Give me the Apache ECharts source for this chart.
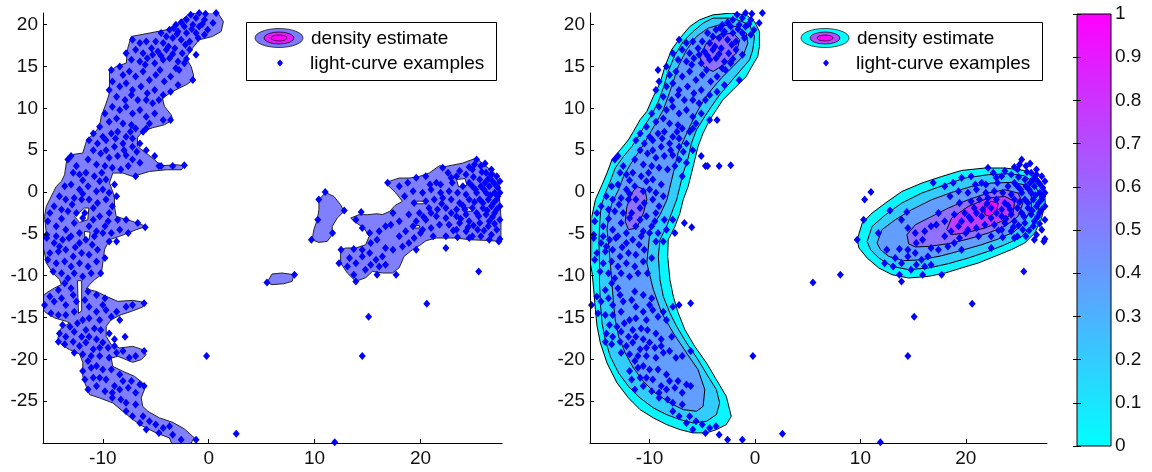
<!DOCTYPE html>
<html><head><meta charset="utf-8">
<script src="https://cdn.jsdelivr.net/npm/echarts@6/dist/echarts.min.js"></script>
<style>html,body{margin:0;padding:0;background:#fff}#c{width:1152px;height:472px}</style>
</head><body><div id="c"></div>
<script>
// ---------------- data ----------------
const xRange = [-15.65, 27.7];
const yRange = [-30, 21.4];
const xTicks = [-10, 0, 10, 20];
const yTicks = [-25, -20, -15, -10, -5, 0, 5, 10, 15, 20];
const cbRange = [0, 1];
const cbTicks = [0, 0.1, 0.2, 0.3, 0.4, 0.5, 0.6, 0.7, 0.8, 0.9, 1];
const legendLabels = ['density estimate', 'light-curve examples'];

// light-curve examples (same points in both panels)
const lightCurvePoints = [
[-1.7,21.2],[-0.9,21.4],[-0.3,21.3],[0.7,21.4],[-2.1,20.6],[-1.2,20.8],[-0.4,20.6],[0.4,20.2],[-3.1,20.0],[-2.3,19.8],[-1.5,20.0],[-0.9,19.8],[-0.1,19.4],[-3.7,19.4],[-2.9,19.2],[-2.1,19.0],[-1.2,19.0],[-0.4,18.8],[-4.0,18.6],[-3.4,18.4],[-2.6,18.2],[-1.8,18.0],[-7.2,18.2],[-6.5,17.8],[-5.9,18.0],[-5.0,18.0],[-4.3,17.8],
[-7.8,16.6],[-6.9,17.0],[-6.2,16.6],[-5.4,17.2],[-4.8,16.8],[-4.0,17.0],[-3.2,17.2],[-2.5,16.6],[-1.8,17.0],[-7.3,15.8],[-6.5,15.6],[-5.8,16.0],[-5.1,15.4],[-4.3,15.8],[-3.7,16.0],[-2.9,15.6],[-2.3,15.4],[-2.8,14.6],[-1.5,13.4],[-9.2,14.6],[-8.4,15.0],
[-8.1,14.0],[-7.5,14.4],[-6.9,13.8],[-6.2,14.4],[-5.6,13.4],[-5.0,14.0],[-4.2,13.2],[-3.6,13.8],[-2.9,12.8],[-9.1,13.2],[-9.4,12.2],[-8.4,12.6],[-7.8,13.0],[-7.2,12.2],[-6.4,12.6],[-5.8,11.8],[-5.1,12.2],[-4.3,11.6],[-3.6,12.0],[-8.7,11.4],[-7.9,11.0],[-7.3,11.6],[-6.7,11.0],[-5.9,11.0],[-5.3,10.6],[-4.7,11.0],
[-9.8,9.4],[-9.1,10.2],[-8.4,9.8],[-7.8,10.2],[-7.2,9.4],[-6.5,9.8],[-5.9,9.0],[-5.1,9.4],[-4.3,8.6],[-3.6,8.6],[-9.4,8.4],[-8.7,8.8],[-8.1,8.2],[-7.3,8.0],[-6.9,7.6],[-6.2,7.2],[-5.6,8.2],[-10.3,7.8],[-10.9,7.0],[-10.0,6.6],[-9.2,7.0],[-8.6,7.2],[-7.8,6.6],[-7.2,6.4],[-5.9,7.6],
[-11.3,6.2],[-10.5,5.8],[-9.7,6.2],[-8.9,5.4],[-8.1,5.8],[-7.2,5.4],[-6.5,5.8],[-5.9,5.0],[-5.1,4.3],[-4.5,3.1],[-10.9,5.0],[-10.2,4.6],[-9.4,4.1],[-8.6,4.3],[-7.8,4.4],[-7.2,3.9],[-6.5,3.5],[-11.4,3.9],[-10.6,3.3],[-9.8,3.1],[-9.1,2.9],[-8.3,2.7],[-7.6,3.1],[-6.9,1.9],[-13.0,4.3],[-13.3,3.9],[-12.5,3.1],[-2.3,3.2],[-3.4,3.1],[-4.7,3.1],
[-12.8,2.3],[-12.2,2.1],[-11.6,2.3],[-10.8,1.9],[-10.3,1.3],[-9.7,1.5],[-8.9,0.9],[-13.6,0.7],[-13.0,0.9],[-12.2,0.3],[-11.4,0.7],[-10.6,0.1],[-10.0,0.3],[-9.4,-0.1],[-8.7,-0.5],[-14.1,-0.5],[-13.5,-0.9],[-12.7,-0.7],[-12.0,-0.9],[-11.3,-0.9],[-10.5,-1.3],[-9.7,-0.9],[-9.1,-1.7],[-14.6,-1.7],[-13.9,-2.1],[-15.0,-2.5],[-13.3,-2.3],[-12.5,-2.5],[-11.7,-2.5],[-10.9,-1.9],[-10.3,-2.9],[-9.4,-2.5],[-8.6,-3.3],[-7.8,-3.3],[-6.7,-3.7],[-6.0,-4.2],
[-15.2,-3.5],[-14.4,-4.1],[-13.5,-4.5],[-12.7,-3.7],[-11.3,-4.1],[-10.6,-4.7],[-9.8,-4.1],[-9.2,-4.9],[-8.4,-4.5],[-7.6,-4.9],[-15.3,-5.1],[-14.4,-5.3],[-13.2,-5.5],[-11.9,-3.1],[-12.2,-4.9],
[-15.3,-5.5],[-14.6,-6.1],[-13.8,-5.7],[-13.0,-5.3],[-12.2,-6.1],[-11.6,-5.7],[-10.8,-5.3],[-10.0,-4.9],[-9.4,-5.9],[-8.7,-5.9],[-15.0,-7.3],[-14.2,-7.1],[-13.5,-6.9],[-12.8,-7.7],[-12.0,-7.3],[-11.3,-7.5],[-10.5,-6.9],[-9.8,-7.9],[-15.2,-8.1],[-14.4,-8.5],[-13.6,-8.3],[-13.0,-8.9],[-12.2,-8.5],[-11.4,-8.9],[-10.6,-8.3],[-10.2,-9.7],[-14.7,-9.5],[-13.9,-9.7],[-13.3,-10.3],[-12.7,-9.7],[-11.9,-10.1],[-11.1,-9.7],[-13.6,-10.9],[-13.0,-11.5],[-14.2,-11.7],[-15.0,-12.5],[-15.5,-13.5],[-14.6,-13.1],[-13.9,-12.7],[-13.5,-13.5],[-12.8,-12.3],[-12.5,-13.1],[-11.4,-11.9],[-10.6,-12.3],[-9.8,-12.7],[-9.7,-14.1],[-8.7,-14.3],[-7.8,-13.7],[-7.2,-13.5],[-6.1,-13.3],
[-14.9,-14.5],[-14.2,-14.7],[-13.5,-14.7],[-12.7,-14.3],[-11.7,-12.9],[-11.3,-13.7],[-10.6,-14.3],[-10.0,-13.5],[-9.2,-14.9],[-8.4,-15.3],[-11.9,-15.3],[-11.3,-15.1],[-10.3,-15.3],[-13.8,-15.9],[-13.1,-16.1],[-12.4,-15.7],[-11.6,-16.5],[-10.8,-16.3],[-10.2,-16.5],[-9.4,-16.9],[-14.1,-16.9],[-13.5,-17.3],[-12.7,-16.7],[-12.0,-17.3],[-11.3,-17.3],[-10.6,-17.6],[-10.0,-18.0],[-8.9,-17.6],[-7.9,-17.3],
[-14.2,-17.9],[-13.6,-18.2],[-12.8,-17.9],[-12.2,-18.4],[-11.6,-18.0],[-10.9,-18.8],[-10.3,-18.6],[-9.5,-18.6],[-8.9,-18.4],[-8.7,-19.2],[-8.1,-19.0],[-12.7,-19.2],[-11.9,-19.4],[-11.1,-19.6],[-10.3,-19.6],[-9.4,-19.8],[-7.5,-19.8],[-6.9,-19.6],[-6.1,-19.0],[-11.4,-20.2],
[-11.9,-21.4],[-11.1,-21.0],[-10.6,-20.8],[-10.0,-21.2],[-9.2,-21.2],[-8.4,-21.8],[-11.7,-22.4],[-10.9,-22.2],[-10.3,-22.2],[-9.7,-22.4],[-8.9,-23.2],[-8.1,-22.6],[-7.3,-22.6],[-6.5,-23.0],[-11.4,-23.6],[-10.6,-23.2],[-9.8,-23.8],[-9.1,-24.0],[-8.4,-23.6],[-7.6,-23.4],[-6.9,-24.0],[-6.1,-23.2],
[-9.1,-24.6],[-8.3,-24.8],[-7.8,-25.2],[-6.9,-25.4],[-7.8,-26.2],[-7.2,-26.8],[-6.2,-26.8],[-5.6,-27.4],[-6.5,-27.6],[-5.0,-27.8],[-5.9,-28.4],[-4.3,-28.2],[-3.7,-28.0],[-4.7,-28.8],[-3.4,-29.0],[-2.6,-29.6],[-1.2,-29.6],[-0.2,-19.6],[2.6,-28.9],
[-3.3,19.6],[-2.6,20.3],[-1.6,19.5],[-0.6,20.1],[-1.0,18.4],[-2.2,17.6],[-3.0,18.9],[-4.5,19.0],[-3.8,17.4],[-4.5,16.3],[-3.4,16.5],[-2.1,15.9],[-1.2,16.4],[-3.1,14.8],[-4.6,14.6],[-6.0,15.2],[-5.3,16.4],
[-7.4,7.2],[-8.8,6.4],[-9.7,5.0],[-8.0,5.0],[-6.8,4.8],[-10.1,2.3],[-11.9,1.4],[-12.9,-1.5],[-11.9,-0.2],[-10.9,-3.3],[-13.9,-3.2],[-14.1,-6.5],[-12.6,-6.6],[-11.0,-6.3],[-9.5,-3.5],
[11.0,0.0],[10.4,-0.9],[12.8,-2.2],[10.3,-3.3],[11.7,-4.9],[9.7,-5.7],
[12.5,-6.9],[13.7,-6.8],[14.4,-2.4],[13.9,-3.3],[14.5,-4.3],[15.2,-4.9],[16.1,-4.7],[16.7,-4.1],[15.9,-5.7],[15.3,-6.1],[14.5,-6.9],[13.3,-7.9],[13.9,-8.5],[14.5,-7.7],[15.2,-7.3],[15.8,-8.1],[16.4,-7.7],[16.7,-6.7],[17.4,-6.9],[12.3,-8.5],[13.1,-8.9],[13.7,-9.9],[13.9,-10.7],[14.8,-9.3],[15.3,-8.7],[16.1,-8.9],[16.7,-8.7],[15.9,-9.9],[17.7,-9.9],[17.4,-2.5],[17.2,-3.9],[18.0,-3.5],[18.0,-5.3],[18.6,-4.7],[19.3,-4.1],[18.3,-6.5],[18.9,-6.1],[19.6,-6.9],[19.4,-5.5],[20.0,-4.9],
[16.9,1.1],[18.0,0.7],[18.8,1.1],[19.6,1.7],[20.5,1.9],[21.5,1.1],[22.1,2.9],[22.6,2.3],[23.4,1.9],[24.3,2.1],[25.3,3.9],[25.7,3.1],[24.9,2.7],[26.2,2.3],[26.7,2.7],[27.2,1.9],[27.5,1.3],[26.8,1.3],[26.1,1.1],[25.6,1.5],[24.6,1.1],[24.0,0.7],[23.0,1.1],[24.9,0.7],[25.7,0.7],[26.5,0.7],[27.3,0.5],[27.5,-0.1],[27.0,-0.1],[26.2,-0.1],[25.3,-0.1],[24.3,-0.3],[23.5,-0.1],[22.7,0.1],[21.9,-0.1],[21.0,0.3],[20.2,-0.1],[19.3,0.1],[18.5,-0.5],[19.4,-1.3],[20.5,-1.1],[21.3,-0.9],[22.1,-0.7],[22.9,-0.9],[23.7,-1.3],[24.6,-0.9],[25.6,-0.9],[26.4,-0.9],[27.2,-0.9],[27.5,-1.7],[26.7,-1.7],[25.9,-1.9],[24.9,-1.9],[24.2,-2.1],[23.4,-2.1],[22.4,-1.9],[21.6,-2.1],[20.8,-1.9],[19.9,-2.5],[18.9,-2.7],[19.6,-3.5],[20.5,-3.3],[21.5,-2.9],[22.4,-3.1],[23.4,-2.9],[24.3,-2.7],[25.3,-2.5],[26.2,-2.7],[27.0,-2.5],[27.5,-3.3],[26.5,-3.5],[25.6,-3.7],[24.6,-3.5],[23.7,-3.7],[22.7,-3.9],[21.8,-3.9],[21.0,-4.3],[20.2,-4.5],[21.2,-5.3],[22.4,-5.3],[23.4,-4.5],[24.3,-4.7],[25.4,-4.5],[26.4,-4.1],[27.2,-4.5],[27.5,-5.6],[26.7,-5.1],[25.7,-5.3],[24.6,-5.5],[23.5,-5.4],[22.4,-6.7],[24.9,-5.3],
[25.0,1.8],[25.8,2.4],[26.4,1.6],[27.0,1.0],[26.0,0.3],[25.2,0.3],[27.3,-0.5],[26.6,-0.4],[25.9,-1.3],[25.1,-1.2],[26.9,-1.3],[26.3,-2.2],[25.5,-2.9],[27.2,-2.1],[26.8,-3.0],[25.0,-4.0],[26.0,-4.6],[27.0,-3.8],[24.0,-1.6],[23.8,-3.2],[24.5,-4.2],[26.1,3.4],[24.6,3.0],[23.7,2.5],[22.9,1.7],[21.9,0.9],[20.9,0.9],[22.0,-1.4],[21.0,-2.5],[20.3,-3.0],[22.9,-2.5],[23.1,-4.6],
[25.1,3.3],[26.7,2.1],[25.5,-9.5],[26.5,-5.7],[27.4,-5.9],[11.9,-29.9],[14.5,-19.6],[15.1,-14.9],[20.6,-13.35],[5.5,-10.8],[8.1,-9.9]
];

// left panel: single density level (data coordinates)
const leftMainBlob = [
[-0.88,21.5],[0.82,21.5],[1.39,20.38],[1.17,19.19],[0.35,18.59],[-0.88,18.2],[-1.66,17.0],[-2.13,16.0],[-1.66,15.0],[-1.44,14.01],[-1.42,13.42],[-2.13,12.82],[-3.42,12.02],[-4.37,11.23],[-4.18,10.23],[-3.55,9.24],[-3.4,8.64],[-4.18,8.04],[-5.31,7.68],[-6.25,7.24],[-6.73,6.49],[-6.73,5.45],[-5.91,4.66],[-5.12,3.86],[-4.49,3.14],[-3.08,3.26],[-2.29,3.14],[-2.6,2.66],[-4.02,2.66],[-5.59,2.46],[-7.17,1.86],[-8.11,2.27],[-9.06,2.27],[-9.37,1.08],[-8.9,-0.53],[-8.9,-1.72],[-8.74,-2.92],[-7.17,-3.51],[-5.91,-4.11],[-6.85,-4.5],[-8.42,-5.3],[-9.37,-5.7],[-9.84,-6.89],[-10,-8.48],[-10.15,-9.88],[-10.78,-10.48],[-11.25,-11.07],[-11.57,-11.59],[-10.62,-11.88],[-9.68,-12.47],[-8.58,-13.07],[-7.17,-12.95],[-6.07,-13.19],[-6.23,-13.74],[-7.32,-14.27],[-8.26,-14.66],[-9.21,-15.26],[-9.68,-16.06],[-9.68,-17.25],[-9.21,-18.24],[-8.42,-18.64],[-7.17,-18.45],[-6.23,-18.84],[-5.91,-19.44],[-6.38,-20.04],[-7.17,-20.36],[-7.79,-20.04],[-8.58,-19.64],[-9.21,-19.84],[-9.06,-20.84],[-8.11,-21.43],[-7.01,-22.03],[-6.23,-22.82],[-6.07,-23.62],[-6.38,-24.61],[-6.23,-25.62],[-5.75,-26.21],[-4.65,-27.0],[-3.4,-27.53],[-2.29,-28.32],[-1.35,-29.39],[-1.82,-30.3],[-3.42,-30.3],[-3.71,-29.39],[-4.96,-28.79],[-6.23,-28.0],[-7.17,-27.2],[-8.11,-26.21],[-9.06,-25.21],[-10.31,-24.61],[-11.25,-24.22],[-11.57,-23.23],[-11.89,-22.03],[-11.89,-21.03],[-11.89,-20.36],[-12.2,-19.37],[-13.14,-18.84],[-13.92,-18.24],[-14.25,-17.44],[-13.92,-16.25],[-13.14,-15.65],[-13.45,-15.46],[-14.56,-15.05],[-15.34,-14.46],[-15.8,-13.86],[-15.8,-12.66],[-15.34,-12.07],[-14.56,-11.47],[-13.92,-11.07],[-14.08,-10.48],[-14.72,-9.68],[-15.34,-8.48],[-15.5,-7.29],[-15.8,-5.7],[-15.34,-4.9],[-15.5,-2.92],[-15.34,-1.72],[-15.03,-0.92],[-14.4,0.67],[-13.92,1.27],[-13.61,2.07],[-13.45,3.46],[-12.98,4.46],[-11.89,4.66],[-11.51,6.25],[-10.94,6.85],[-10.31,7.84],[-10.15,9.03],[-9.68,10.63],[-9.37,11.83],[-9.37,14.41],[-8.74,15.0],[-7.79,15.41],[-7.64,17.2],[-7.32,18.59],[-5.59,19.0],[-4.02,19.39],[-3.08,19.99],[-1.98,21.18]
];
const leftClusterBlob = [
[12.46,-6.89],[12.46,-8.48],[13.09,-9.68],[13.89,-10.68],[14.83,-10.24],[15.46,-9.49],[16.41,-9.68],[17.36,-9.68],[17.99,-9.05],[18.46,-7.69],[19.25,-6.89],[19.89,-6.41],[20.52,-5.82],[21.47,-5.5],[23.36,-5.5],[24.63,-5.7],[26.21,-5.78],[27.6,-5.9],[27.6,-2.92],[27.47,-0.92],[27.47,0.67],[27.0,2.27],[26.21,3.06],[25.26,4.06],[23.99,3.46],[22.42,3.06],[21.78,3.14],[20.83,2.27],[19.89,1.86],[18.94,1.67],[17.99,1.67],[17.04,1.27],[16.88,0.87],[17.68,-0.12],[18.3,-1.12],[17.6,-1.6],[17.1,-2.3],[16.4,-2.7],[15.9,-2.6],[14.99,-2.71],[14.2,-2.71],[13.41,-3.11],[13.73,-3.51],[14.67,-4.3],[15.15,-5.3],[14.83,-6.3],[13.89,-6.69],[12.94,-6.69]
];
const leftIslandA = [[10.41,-0.92],[11.04,-0.05],[11.83,-0.53],[12.46,-1.52],[12.78,-2.32],[12.14,-3.11],[11.67,-4.11],[11.67,-5.1],[11.19,-5.9],[10.41,-6.02],[9.77,-5.7],[9.93,-4.5],[10.25,-3.31],[10.41,-2.11]];
const leftIslandB = [[5.51,-10.8],[5.98,-9.8],[6.93,-9.68],[8.04,-9.88],[7.88,-10.68],[7.09,-10.96],[5.98,-11.07]];
const leftHoles = [
[[-12.67,-2.92],[-11.73,-1.91],[-11.32,-1.91],[-11.42,-3.31],[-12.2,-3.63]],
[[-11.73,-4.7],[-11.2,-4.8],[-11.3,-5.7],[-11.7,-5.6]],
[[-12.4,-10.6],[-12.0,-10.6],[-12.0,-14.2],[-12.3,-14.5]],
[[23.4,1.5],[24.2,1.6],[24.4,0.8],[23.6,0.6]],
[[19.2,-1.1],[20.5,-1.1],[20.3,-1.4],[19.2,-1.4]],
[[24.3,-1.9],[25.0,-1.9],[24.9,-2.3],[24.3,-2.3]],
[[19.3,-4.0],[19.9,-4.0],[19.9,-4.3],[19.3,-4.3]]
];

// right panel: nested density levels (data coordinates)
const bananaLevel1 = [
[-5.24,20.59],[-3.98,21.18],[-2.25,21.39],[-0.83,21.18],[-0.05,20.38],[0.42,19.19],[0.42,17.4],[0.26,16.2],[-0.21,15.21],[-0.83,13.81],[-2.09,12.22],[-3.04,11.03],[-3.66,9.83],[-4.29,8.64],[-4.92,7.05],[-5.4,5.45],[-5.71,3.86],[-6.02,2.27],[-6.34,0.67],[-6.81,-0.92],[-7.12,-2.51],[-7.59,-4.11],[-8.23,-5.7],[-8.28,-7.69],[-8.07,-10.48],[-7.75,-12.47],[-7.28,-14.46],[-6.65,-16.45],[-5.71,-18.45],[-4.6,-20.43],[-3.66,-22.43],[-2.72,-24.42],[-2.25,-26.81],[-2.72,-27.8],[-3.66,-28.4],[-4.6,-28.79],[-5.87,-28.79],[-7.12,-28.4],[-8.38,-27.8],[-9.64,-27.0],[-10.9,-26.01],[-12.0,-24.61],[-13.09,-22.82],[-14.04,-20.43],[-14.67,-18.04],[-14.98,-16.06],[-15.14,-14.06],[-15.3,-11.67],[-15.45,-9.68],[-15.8,-7.29],[-15.8,-4.9],[-15.14,-0.92],[-14.51,0.87],[-14.04,2.27],[-13.57,3.86],[-12.78,5.05],[-12.0,6.25],[-11.53,7.24],[-10.9,8.64],[-10.26,9.63],[-9.64,11.42],[-9.01,13.02],[-8.54,15.0],[-7.91,17.0],[-7.12,18.4],[-6.18,19.79]
];
const bananaLevel2 = [
[-4.92,20.19],[-3.98,20.79],[-2.09,20.79],[-0.52,19.99],[-0.05,18.59],[-0.21,17.0],[-0.52,15.8],[-1.46,14.41],[-2.41,13.02],[-3.35,11.63],[-4.13,10.23],[-4.76,9.03],[-5.55,7.44],[-6.02,5.85],[-6.34,4.06],[-6.81,2.27],[-7.12,0.67],[-7.43,-0.92],[-7.91,-2.51],[-8.38,-4.11],[-9.01,-5.7],[-9.17,-7.69],[-9.01,-10.48],[-8.7,-12.47],[-8.07,-14.46],[-7.43,-16.06],[-6.49,-18.04],[-5.4,-20.04],[-4.45,-22.03],[-3.66,-23.62],[-3.35,-25.21],[-3.66,-26.61],[-4.6,-27.41],[-5.87,-27.6],[-7.12,-27.2],[-8.38,-26.61],[-9.64,-25.81],[-10.9,-24.61],[-12.0,-23.23],[-12.94,-21.63],[-13.73,-19.64],[-14.2,-17.65],[-14.51,-15.65],[-14.67,-13.26],[-14.75,-10.87],[-14.75,-8.48],[-14.8,-6.09],[-14.75,-4.11],[-14.6,-1.72],[-14.2,-0.12],[-13.73,1.27],[-13.26,2.87],[-12.47,4.25],[-11.68,5.45],[-11.06,6.64],[-10.42,8.04],[-9.79,9.24],[-9.17,10.82],[-8.7,12.43],[-8.23,14.41],[-7.59,16.4],[-6.81,17.99],[-5.87,19.19]
];
const bananaLevel3 = [
[-4.45,19.59],[-3.35,19.99],[-1.77,19.78],[-0.83,19.0],[-0.68,17.8],[-1.15,16.2],[-2.09,15.0],[-3.19,13.62],[-4.13,12.22],[-4.92,10.82],[-5.55,9.44],[-6.18,7.84],[-6.75,6.25],[-7.3,4.66],[-7.6,3.06],[-7.9,1.47],[-8.35,-0.92],[-9.0,-2.71],[-9.95,-4.5],[-10.26,-8.48],[-9.64,-11.67],[-8.85,-14.46],[-7.75,-16.85],[-6.49,-19.24],[-5.4,-21.23],[-4.76,-23.62],[-4.92,-25.62],[-5.55,-26.21],[-6.81,-26.01],[-8.07,-25.21],[-9.48,-24.01],[-10.58,-22.63],[-11.53,-21.03],[-12.31,-19.24],[-12.94,-17.25],[-13.26,-15.26],[-13.42,-13.26],[-13.57,-10.87],[-13.73,-8.48],[-13.89,-6.09],[-14.04,-4.5],[-13.89,-2.92],[-13.57,-1.31],[-12.94,0.27],[-12.47,1.86],[-11.84,3.26],[-11.21,4.46],[-10.58,5.65],[-9.95,7.05],[-9.32,8.43],[-8.7,9.83],[-8.23,11.42],[-7.75,13.21],[-7.28,15.0],[-6.49,17.0],[-5.55,18.59]
];
const bananaLevel4Top = [[-4.92,15.0],[-5.24,16.2],[-4.6,17.8],[-3.35,18.79],[-2.09,19.0],[-1.46,18.2],[-1.77,16.61],[-2.72,15.41],[-3.98,14.41]];
const bananaLevel4Bottom = [[-11.21,0.67],[-10.42,0.27],[-10.26,-0.92],[-10.58,-2.51],[-11.21,-4.3],[-12.0,-4.5],[-12.31,-3.51],[-12.15,-1.72],[-11.68,-0.12]];
const edgeGap = [[-15.8,-2.4],[-15.45,-3.0],[-15.4,-5.5],[-15.45,-8.0],[-15.8,-8.6]];

const clusterLevel1 = [[9.7,-5.7],[10.17,-3.71],[11.11,-2.51],[12.38,-1.31],[13.94,0.07],[15.83,1.07],[17.72,1.86],[19.6,2.58],[21.81,2.87],[23.7,2.87],[25.58,2.58],[26.84,1.67],[27.47,0.47],[27.53,-1.31],[27.15,-3.31],[26.53,-4.9],[25.58,-6.1],[24.32,-6.89],[22.75,-7.69],[21.18,-8.48],[19.6,-9.08],[18.04,-9.68],[16.46,-10.08],[14.58,-10.28],[13.0,-9.88],[11.75,-9.08],[10.64,-7.89],[9.86,-6.69]];
const clusterLevel2 = [[10.64,-5.9],[11.11,-4.11],[12.38,-2.71],[13.94,-1.31],[15.83,-0.12],[18.04,0.87],[19.92,1.67],[22.12,2.07],[24.01,2.19],[25.58,1.95],[26.53,1.07],[27.0,-0.52],[26.84,-2.51],[26.21,-4.11],[25.26,-5.38],[23.7,-6.3],[22.12,-7.09],[20.23,-7.89],[18.35,-8.56],[16.46,-9.08],[14.58,-9.28],[13.0,-8.88],[11.75,-7.89],[10.96,-6.89]];
const clusterLevel3 = [[11.58,-6.09],[12.05,-4.5],[13.31,-3.31],[14.87,-2.11],[16.76,-0.92],[18.65,-0.05],[20.54,0.67],[22.42,1.07],[24.32,1.15],[25.58,0.87],[26.21,-0.12],[26.21,-1.91],[25.58,-3.51],[24.64,-4.71],[23.07,-5.62],[21.49,-6.3],[19.6,-6.98],[17.72,-7.61],[15.83,-8.09],[14.1,-8.21],[12.69,-7.69],[11.9,-6.89]];
const clusterLevel4 = [[14.58,-6.2],[14.42,-5.1],[15.21,-3.91],[16.76,-2.92],[18.35,-1.91],[20.23,-0.92],[22.12,-0.12],[23.7,0.27],[24.95,-0.12],[25.42,-1.31],[24.95,-2.92],[23.7,-4.11],[22.12,-4.9],[20.23,-5.62],[18.35,-6.18],[16.46,-6.5],[15.21,-6.57]];
const clusterLevel5 = [[18.19,-4.5],[18.65,-3.11],[20.23,-1.72],[22.12,-0.72],[23.7,-0.53],[24.64,-1.12],[24.48,-2.51],[23.38,-3.51],[21.81,-4.3],[19.92,-4.9],[18.65,-5.1]];
const clusterLevel6 = [[21.81,-1.52],[22.42,-1.12],[23.07,-1.31],[22.92,-2.32],[22.28,-2.92],[21.81,-2.71]];

// ---------------- styles ----------------
const FONT = 'Liberation Sans, Arial, Helvetica, sans-serif';
const LEFT_FILL = '#8080ff';
const LEFT_EDGE = '#222';
const bandColors = ['#0af5ff', '#33ccff', '#619eff', '#8f70ff', '#c03fff', '#f00fff'];
const POINT_COLOR = '#0000ff';

function polySeries(axisIdx, poly, fill, stroke) {
  return {
    type: 'custom', xAxisIndex: axisIdx, yAxisIndex: axisIdx, clip: true, silent: true, z: 2,
    data: [[poly[0][0], poly[0][1]]],
    renderItem: function (params, api) {
      return { type: 'polygon', shape: { points: poly.map(function (p) { return api.coord(p); }) },
               style: { fill: fill, stroke: stroke, lineWidth: 1 } };
    }
  };
}
function scatterSeries(axisIdx) {
  return { type: 'scatter', xAxisIndex: axisIdx, yAxisIndex: axisIdx, data: lightCurvePoints, z: 3, silent: true,
           symbol: 'diamond', symbolSize: [7, 8], itemStyle: { color: POINT_COLOR, opacity: 1 } };
}

const series = [];
series.push(polySeries(0, leftMainBlob, LEFT_FILL, LEFT_EDGE));
series.push(polySeries(0, leftClusterBlob, LEFT_FILL, LEFT_EDGE));
series.push(polySeries(0, leftIslandA, LEFT_FILL, LEFT_EDGE));
series.push(polySeries(0, leftIslandB, LEFT_FILL, LEFT_EDGE));
leftHoles.forEach(function (h) { series.push(polySeries(0, h, '#ffffff', LEFT_EDGE)); });
series.push(scatterSeries(0));

[[bananaLevel1, 0], [bananaLevel2, 1], [bananaLevel3, 2], [bananaLevel4Top, 3], [bananaLevel4Bottom, 3],
 [clusterLevel1, 0], [clusterLevel2, 1], [clusterLevel3, 2], [clusterLevel4, 3], [clusterLevel5, 4], [clusterLevel6, 5]]
 .forEach(function (d) { series.push(polySeries(1, d[0], bandColors[d[1]], '#000')); });
series.push(polySeries(1, edgeGap, '#808080', 'none'));
series.push(scatterSeries(1));

// colorbar
series.push({
  type: 'custom', xAxisIndex: 2, yAxisIndex: 2, silent: true, z: 1, data: [[0, 0]],
  renderItem: function (params, api) {
    const p0 = api.coord([0, cbRange[0]]), p1 = api.coord([1, cbRange[1]]);
    return { type: 'rect', shape: { x: p0[0], y: p1[1], width: p1[0] - p0[0], height: p0[1] - p1[1] },
      style: { stroke: '#000', lineWidth: 1,
        fill: new echarts.graphic.LinearGradient(0, 0, 0, 1, [{ offset: 0, color: '#ff00ff' }, { offset: 1, color: '#00ffff' }]) } };
  }
});

function valueAxis(gridIndex, range, ticks, extra) {
  return Object.assign({
    gridIndex: gridIndex, type: 'value', min: range[0], max: range[1], z: 5,
    axisLine: { show: true, onZero: false, lineStyle: { color: '#000', width: 1 } },
    axisTick: { show: true, inside: true, length: 4, customValues: ticks, lineStyle: { color: '#000' } },
    axisLabel: { show: true, customValues: ticks, color: '#111', fontSize: 19, fontFamily: FONT, margin: 6 },
    splitLine: { show: false }
  }, extra || {});
}

const gridBase = { containLabel: false, outerBoundsMode: 'none' };
const option = {
  animation: false,
  backgroundColor: '#fff',
  textStyle: { fontFamily: FONT },
  grid: [
    Object.assign({ left: 43, top: 13, width: 459, height: 430 }, gridBase),
    Object.assign({ left: 590, top: 13, width: 457, height: 430 }, gridBase),
    Object.assign({ left: 1077, top: 14, width: 34, height: 432 }, gridBase)
  ],
  xAxis: [
    valueAxis(0, xRange, xTicks),
    valueAxis(1, xRange, xTicks),
    { gridIndex: 2, type: 'value', min: 0, max: 1, show: false }
  ],
  yAxis: [
    valueAxis(0, yRange, yTicks, { axisLabel: { customValues: yTicks, color: '#111', fontSize: 19, fontFamily: FONT, margin: 5 } }),
    valueAxis(1, yRange, yTicks, { axisLabel: { customValues: yTicks, color: '#111', fontSize: 19, fontFamily: FONT, margin: 5 } }),
    valueAxis(2, cbRange, cbTicks, { position: 'right', axisLine: { show: false },
      axisLabel: { customValues: cbTicks, color: '#111', fontSize: 19, fontFamily: FONT, margin: 4,
        formatter: function (v) { return String(+(+v).toFixed(1)); } } }),
    valueAxis(2, cbRange, cbTicks, { position: 'left', axisLine: { show: false }, axisLabel: { show: false } })
  ],
  series: series,
  graphic: buildLegends()
};

function ellipse(cx, cy, rx, ry, fill) {
  return { type: 'circle', x: cx, y: cy, scaleY: ry / rx, shape: { cx: 0, cy: 0, r: rx },
           style: { fill: fill, stroke: '#000', lineWidth: 1, strokeNoScale: true }, z: 11 };
}
function legendBox(left, iconFills) {
  const els = [];
  els.push({ type: 'rect', shape: { x: left + 0.5, y: 22.5, width: 250, height: 58 }, style: { fill: '#fff', stroke: '#000', lineWidth: 1 }, z: 10 });
  els.push(ellipse(left + 33, 38, 24, 9.5, iconFills[0]));
  els.push(ellipse(left + 33, 38, 15, 6, iconFills[1]));
  els.push(ellipse(left + 33, 38, 8, 3, iconFills[2]));
  const mx = left + 34, my = 63;
  els.push({ type: 'polygon', shape: { points: [[mx, my - 3.5], [mx + 3, my], [mx, my + 3.5], [mx - 3, my]] }, style: { fill: POINT_COLOR }, z: 11 });
  els.push({ type: 'text', x: left + 65, y: 39, style: { text: legendLabels[0], fontSize: 19, fontFamily: FONT, fill: '#000', verticalAlign: 'middle', align: 'left' }, z: 11 });
  els.push({ type: 'text', x: left + 64, y: 64, style: { text: legendLabels[1], fontSize: 19, fontFamily: FONT, fill: '#000', verticalAlign: 'middle', align: 'left' }, z: 11 });
  return els;
}
function buildLegends() {
  return legendBox(246, ['#7b7bff', '#e619ff', '#ff00ff']).concat(legendBox(792, ['#00ffff', '#b34dff', '#ff00ff']));
}

const chart = echarts.init(document.getElementById('c'), null, { renderer: 'canvas', width: 1152, height: 472 });
chart.setOption(option);
</script>
</body></html>
